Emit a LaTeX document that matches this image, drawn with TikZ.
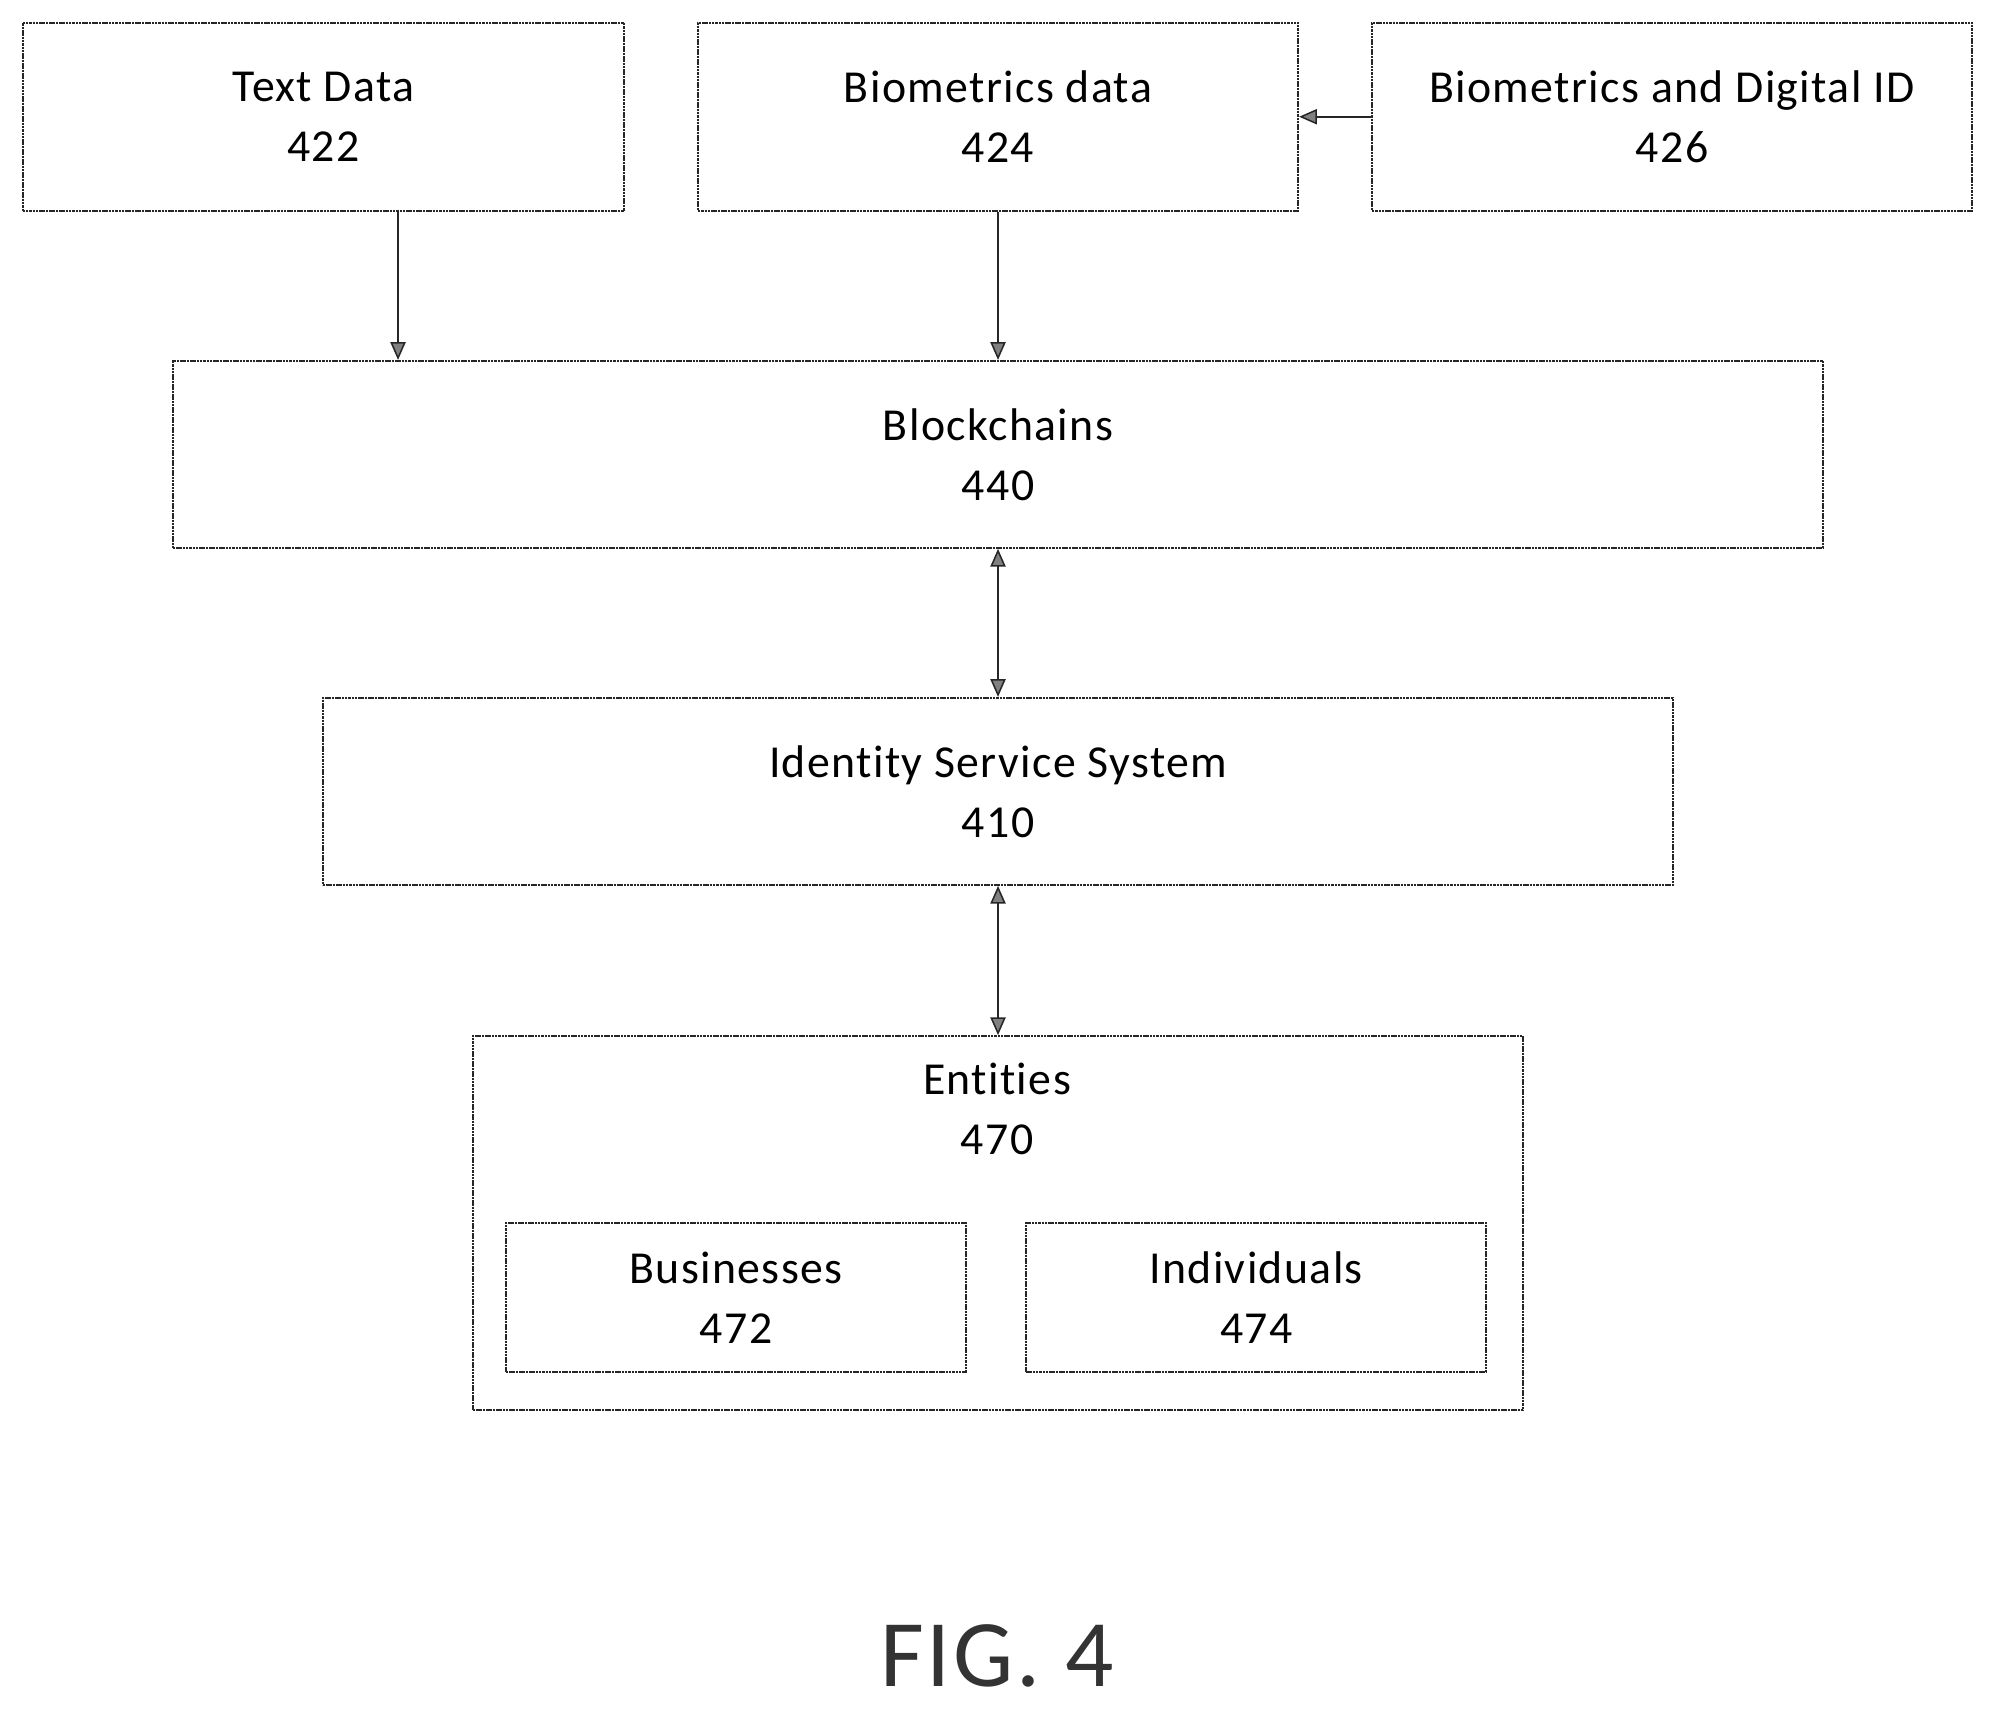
\documentclass[tikz,border=0pt]{standalone}
\usepackage{fontspec}
\setmainfont[Ligatures={NoCommon},LetterSpace=3]{Carlito}
\usetikzlibrary{arrows.meta}
\begin{document}
\begin{tikzpicture}[x=1pt,y=-1pt,
 box/.style={draw=black!85,line width=1.6pt,dash pattern=on 2pt off 0.6pt,align=center,font=\fontsize{36}{47}\selectfont,inner sep=0pt,anchor=north west},
 arr/.style={draw=black!85,line width=1.2pt,-{Triangle[width=12pt,length=14pt,open,fill=black!50]}},
 darr/.style={arr,{Triangle[width=12pt,length=14pt,open,fill=black!50]}-{Triangle[width=12pt,length=14pt,open,fill=black!50]}}]
\useasboundingbox (0,0) rectangle (1568,1344);
\node[box,minimum width=473pt,minimum height=148pt] (t) at (17,17) {Text Data\\422};
\node[box,minimum width=472pt,minimum height=148pt] (b) at (548,17) {Biometrics data\\424};
\node[box,minimum width=472pt,minimum height=148pt] (d) at (1078,17) {Biometrics and Digital ID\\426};
\node[box,minimum width=1298pt,minimum height=147pt] (bc) at (135,283) {Blockchains\\440};
\node[box,minimum width=1062pt,minimum height=147pt] (is) at (253,548) {Identity Service System\\410};
\node[box,minimum width=826pt,minimum height=294pt] (en) at (371,814) {};
\node[align=center,font=\fontsize{36}{47}\selectfont,anchor=north,inner sep=0pt] (enl) at (784,836) {Entities\\470};
\node[box,minimum width=362pt,minimum height=117pt] (bu) at (397,961) {Businesses\\472};
\node[box,minimum width=362pt,minimum height=117pt] (in) at (806,961) {Individuals\\474};
\node[font=\fontsize{75}{80}\selectfont,text=black!80] (fig) at (784,1302) {FIG. 4};
\draw[arr] (t.south west) ++(296,0) coordinate (ts) -- (ts |- bc.north);
\draw[arr] (b.south) -- (bc.north -| b.south);
\draw[arr] (d.west) -- (b.east);
\draw[darr] (bc.south) -- (is.north);
\draw[darr] (is.south) -- (en.north);
\end{tikzpicture}
\end{document}
